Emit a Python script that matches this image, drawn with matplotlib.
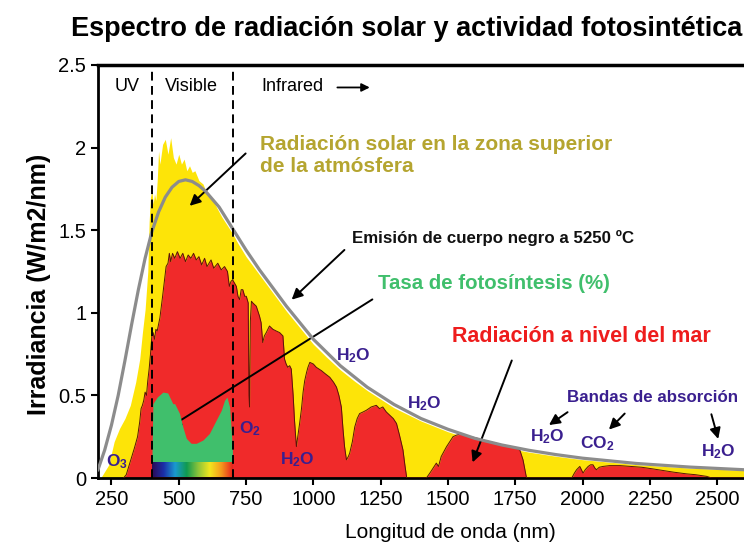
import matplotlib
matplotlib.use('Agg')
import matplotlib.pyplot as plt
import numpy as np
from matplotlib.colors import LinearSegmentedColormap

# blackbody emission (5250 C)
bb_nm = [200, 225, 250, 275, 300, 325, 350, 375, 400, 425, 450, 475, 500, 525, 550,
         575, 600, 650, 700, 750, 800, 850, 900, 950, 1000, 1100, 1200, 1300, 1400,
         1500, 1600, 1700, 1800, 1900, 2000, 2200, 2400, 2600]
bb_val = [0.05, 0.17, 0.32, 0.50, 0.71, 0.93, 1.14, 1.33, 1.49, 1.61, 1.70, 1.76, 1.795,
          1.805, 1.795, 1.77, 1.735, 1.64, 1.51, 1.38, 1.26, 1.15, 1.04, 0.94, 0.84,
          0.68, 0.55, 0.445, 0.36, 0.295, 0.24, 0.20, 0.168, 0.142, 0.12, 0.088, 0.066,
          0.05]

# top of atmosphere
toa_nm = [210, 240, 260, 280, 300, 320, 340, 355, 365, 375, 385, 390, 395, 400, 405,
          410, 415, 420, 425, 430, 440, 450, 460, 470, 480, 490, 500, 510, 520, 530,
          540, 550, 560, 575, 590, 600, 620, 640, 660, 680, 700, 720, 750, 800, 850,
          900, 950, 1000, 1050, 1100, 1150, 1200, 1300, 1400, 1500, 1600, 1700, 1800,
          1900, 2000, 2200, 2400, 2600]
toa_val = [0.0, 0.08, 0.22, 0.30, 0.36, 0.44, 0.58, 0.72, 0.88, 1.02, 1.25, 1.55, 1.70,
           1.74, 1.66, 1.72, 1.68, 1.80, 1.98, 1.90, 2.02, 2.05, 1.96, 2.06, 1.94, 1.90,
           1.96, 1.90, 1.93, 1.86, 1.89, 1.85, 1.86, 1.80, 1.78, 1.74, 1.70, 1.64, 1.58,
           1.53, 1.48, 1.42, 1.34, 1.23, 1.12, 1.01, 0.91, 0.81, 0.73, 0.655, 0.59, 0.53,
           0.425, 0.345, 0.28, 0.228, 0.188, 0.157, 0.132, 0.111, 0.081, 0.06, 0.046]

# sea level
sea_nm = [295, 305, 320, 335, 347, 355, 360, 365, 370, 375, 380, 385, 390, 395, 400,
          405, 410, 415, 420, 430, 440, 447, 453, 460, 465, 470, 477, 485, 495, 505,
          515, 525, 535, 545, 555, 565, 575, 585, 596, 605, 620, 630, 645, 658, 670,
          681, 688, 694, 700, 707, 714, 720, 726, 732, 738, 745, 751, 758, 761, 763,
          766, 770, 775, 788, 800, 806, 812, 818, 825, 837, 850, 862, 875, 887, 893,
          899, 905, 912, 918, 925, 930, 937, 943, 949, 956, 962, 968, 975, 980, 987,
          1000, 1011, 1030, 1045, 1061, 1075, 1086, 1095, 1104, 1110, 1116, 1123, 1130,
          1135, 1145, 1154, 1163, 1172, 1185, 1197, 1215, 1234, 1246, 1258, 1271, 1284,
          1297, 1309, 1320, 1333, 1340, 1347, 1420, 1433, 1445, 1457, 1465, 1475, 1485,
          1495, 1507, 1519, 1532, 1544, 1560, 1581, 1600, 1630, 1655, 1681, 1705, 1730,
          1750, 1767, 1779, 1786, 1792, 1960, 1970, 1978, 1990, 1996, 2002, 2010, 2021,
          2030, 2039, 2046, 2052, 2062, 2076, 2100, 2139, 2180, 2220, 2262, 2300, 2340,
          2387, 2420, 2461, 2480, 2600]
sea_val = [0.0, 0.02, 0.10, 0.18, 0.25, 0.34, 0.42, 0.44, 0.47, 0.52, 0.50, 0.59, 0.66,
           0.75, 0.86, 0.88, 0.84, 0.90, 0.89, 0.97, 1.10, 1.20, 1.28, 1.30, 1.36, 1.31,
           1.36, 1.33, 1.37, 1.33, 1.36, 1.31, 1.35, 1.33, 1.36, 1.32, 1.34, 1.29, 1.33,
           1.28, 1.32, 1.27, 1.30, 1.26, 1.28, 1.25, 1.16, 1.19, 1.20, 1.18, 1.16, 1.10,
           1.08, 1.14, 1.14, 1.10, 1.10, 1.06, 0.50, 0.43, 0.95, 1.07, 1.06, 1.04, 0.98,
           0.94, 0.82, 0.86, 0.88, 0.92, 0.90, 0.89, 0.88, 0.86, 0.72, 0.69, 0.67, 0.68,
           0.66, 0.50, 0.35, 0.19, 0.26, 0.33, 0.42, 0.52, 0.59, 0.64, 0.67, 0.70, 0.69,
           0.67, 0.65, 0.63, 0.61, 0.58, 0.55, 0.50, 0.43, 0.30, 0.19, 0.11, 0.13, 0.15,
           0.22, 0.31, 0.36, 0.39, 0.40, 0.41, 0.43, 0.44, 0.42, 0.43, 0.40, 0.38, 0.36,
           0.33, 0.26, 0.17, 0.08, 0.0, 0.0, 0.03, 0.06, 0.09, 0.07, 0.13, 0.16, 0.19,
           0.22, 0.25, 0.26, 0.265, 0.26, 0.25, 0.245, 0.23, 0.22, 0.21, 0.20, 0.19,
           0.18, 0.17, 0.11, 0.05, 0.0, 0.0, 0.03, 0.05, 0.07, 0.05, 0.03, 0.05, 0.07,
           0.08, 0.08, 0.06, 0.05, 0.065, 0.07, 0.075, 0.075, 0.07, 0.065, 0.055, 0.045,
           0.035, 0.025, 0.02, 0.01, 0.0, 0.0]

# photosynthesis rate (drawn on top of the visible band)
ps_nm = [400, 404, 420, 441, 459, 478, 485, 503, 515, 528, 546, 565, 590, 614, 639,
         658, 670, 679, 689, 699, 700]
ps_val = [0.09, 0.45, 0.49, 0.52, 0.515, 0.45, 0.45, 0.39, 0.31, 0.24, 0.21, 0.21, 0.23,
          0.27, 0.35, 0.41, 0.47, 0.49, 0.43, 0.19, 0.09]
ps_base = 0.09

xticks = [250, 500, 750, 1000, 1250, 1500, 1750, 2000, 2250, 2500]
yticks = [0, 0.5, 1, 1.5, 2, 2.5]
ytick_labels = ['0', '0.5', '1', '1.5', '2', '2.5']

plt.rcParams['font.family'] = ['Liberation Sans', 'DejaVu Sans']
plt.rcParams['mathtext.fontset'] = 'custom'
plt.rcParams['mathtext.rm'] = 'Liberation Sans'
plt.rcParams['mathtext.bf'] = 'Liberation Sans:bold'

c_yellow = '#fde408'
c_red = '#f02a2a'
c_green = '#40bf6c'
c_gray = '#8c8c8c'
c_mol = '#3a1f8f'

fig = plt.figure(figsize=(7.44, 5.47), dpi=100)
ax = fig.add_axes([98 / 744, 1 - 478 / 547, 646 / 744, 413 / 547])

ax.fill_between(toa_nm, 0, toa_val, color=c_yellow, lw=0, zorder=1)
ax.fill_between(sea_nm, 0, sea_val, color=c_red, lw=0, zorder=2)
ax.plot(sea_nm, sea_val, color='#5a1408', lw=0.7, zorder=3)
ax.plot(bb_nm, bb_val, color=c_gray, lw=2.3, zorder=4)
ax.fill_between(ps_nm, ps_base, ps_val, color=c_green, lw=0, zorder=5)

spec = LinearSegmentedColormap.from_list(
    'vis', ['#2b0a55', '#1b2fa8', '#1a9ad0', '#0f9a50', '#8cc43a', '#f2e61e',
            '#f59a1c', '#e8221e'])
ax.imshow(np.linspace(0, 1, 256)[None, :], cmap=spec, aspect='auto',
          extent=[400, 700, 0.005, ps_base], zorder=6)

for xv in (400, 700):
    ax.plot([xv, xv], [0, 2.5], color='black', lw=1.4, ls=(0, (4.5, 2.8)), zorder=7)

ax.set_xlim(200, 2600)
ax.set_ylim(0, 2.5)
ax.set_xticks(xticks)
ax.set_yticks(yticks)
ax.set_yticklabels(ytick_labels)
ax.tick_params(labelsize=14.5, width=1.5, length=5, direction='out')
for s in ('left', 'bottom'):
    ax.spines[s].set_linewidth(2)
ax.spines['top'].set_linewidth(2.5)
ax.spines['right'].set_visible(False)

ax.set_xlabel('Longitud de onda (nm)', fontsize=15)
ax.xaxis.set_label_coords(0.545, -0.11)
ax.set_ylabel('Irradiancia (W/m2/nm)', fontsize=18, fontweight='bold')
ax.yaxis.set_label_coords(-0.073, 0.47)

fig.text(0.546, 0.947, 'Espectro de radiación solar y actividad fotosintética',
         ha='center', va='center', fontsize=19.5, fontweight='bold')

# region labels
ax.text(310, 2.37, 'UV', ha='center', va='center', fontsize=13)
ax.text(547, 2.37, 'Visible', ha='center', va='center', fontsize=13)
ax.text(808, 2.37, 'Infrared', ha='left', va='center', fontsize=13)
ax.annotate('', xy=(1220, 2.364), xytext=(1079, 2.364),
            arrowprops=dict(arrowstyle='-|>', color='black', lw=1.3, mutation_scale=12))

arrow = dict(arrowstyle='-|>', color='black', lw=1.4, mutation_scale=16)

ax.text(800, 1.955, 'Radiación solar en la zona superior\nde la atmósfera', ha='left',
        va='center', fontsize=15, fontweight='bold', color='#b5a530', linespacing=1.2)
ax.annotate('', xy=(533, 1.636), xytext=(756, 1.976), arrowprops=arrow)

ax.text(1142, 1.455, 'Emisión de cuerpo negro a 5250 ºC', ha='left', va='center',
        fontsize=12.2, fontweight='bold', color='#111111')
ax.annotate('', xy=(912, 1.068), xytext=(1123, 1.392), arrowprops=arrow)

ax.text(1239, 1.18, 'Tasa de fotosíntesis (%)', ha='left', va='center',
        fontsize=14.7, fontweight='bold', color=c_green)
ax.annotate('', xy=(459, 0.30), xytext=(1228, 1.09), arrowprops=arrow)

ax.text(1514, 0.855, 'Radiación a nivel del mar', ha='left', va='center',
        fontsize=15.5, fontweight='bold', color='#ee1c1c')
ax.annotate('', xy=(1588, 0.079), xytext=(1741, 0.727), arrowprops=arrow)

ax.text(1942, 0.49, 'Bandas de absorción', ha='left', va='center',
        fontsize=12.2, fontweight='bold', color=c_mol)
ax.annotate('', xy=(1867, 0.311), xytext=(1953, 0.408), arrowprops=arrow)
ax.annotate('', xy=(2091, 0.281), xytext=(2164, 0.402), arrowprops=arrow)
ax.annotate('', xy=(2507, 0.22), xytext=(2476, 0.402), arrowprops=arrow)

mol_labels = [
    (269, 0.097, r'$\mathbf{O_3}$'),
    (763, 0.30, r'$\mathbf{O_2}$'),
    (942, 0.11, r'$\mathbf{H_2O}$'),
    (1150, 0.74, r'$\mathbf{H_2O}$'),
    (1414, 0.45, r'$\mathbf{H_2O}$'),
    (1871, 0.25, r'$\mathbf{H_2O}$'),
    (2054, 0.21, r'$\mathbf{CO_2}$'),
    (2504, 0.16, r'$\mathbf{H_2O}$'),
]
for xv, yv, s in mol_labels:
    ax.text(xv, yv, s, ha='center', va='center', fontsize=12.5, color=c_mol, zorder=8)

fig.savefig('out.png', dpi=100)
